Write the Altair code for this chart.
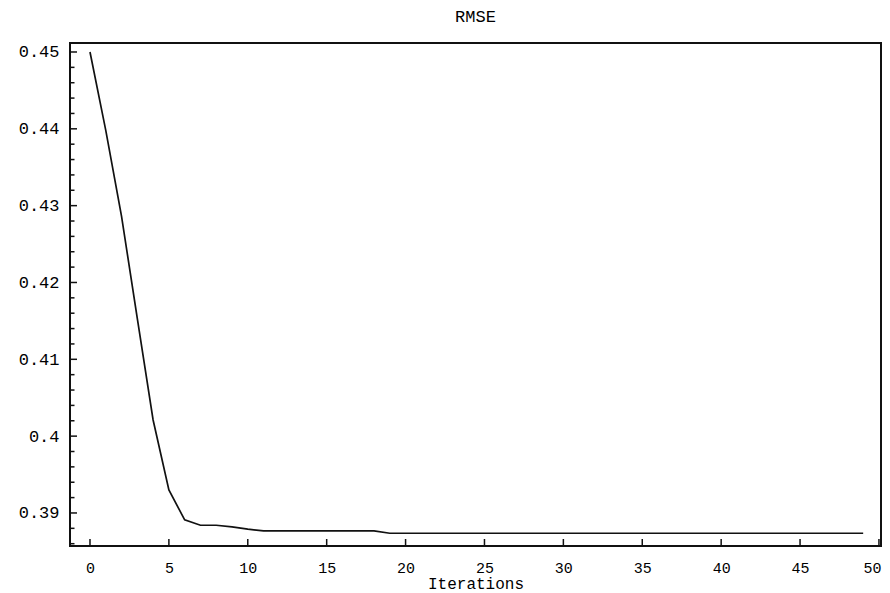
import altair as alt
import pandas as pd

# ---- data ----
iterations = list(range(50))
rmse = [
    0.4500, 0.4398, 0.4286, 0.4153, 0.4021, 0.3930, 0.3891, 0.3884, 0.3884, 0.3882,
    0.3879, 0.38766, 0.38766, 0.38766, 0.38766, 0.38766, 0.38766, 0.38766, 0.38766, 0.38736,
    0.38736, 0.38736, 0.38736, 0.38736, 0.38736, 0.38736, 0.38736, 0.38736, 0.38736, 0.38736,
    0.38736, 0.38736, 0.38736, 0.38736, 0.38736, 0.38736, 0.38736, 0.38736, 0.38736, 0.38736,
    0.38736, 0.38736, 0.38736, 0.38736, 0.38736, 0.38736, 0.38736, 0.38736, 0.38736, 0.38736,
]
x_ticks = [0, 5, 10, 15, 20, 25, 30, 35, 40, 45, 50]
y_major = [0.39, 0.40, 0.41, 0.42, 0.43, 0.44, 0.45]
y_minor = [0.386, 0.388, 0.392, 0.394, 0.396, 0.398, 0.402, 0.404, 0.406, 0.408,
           0.412, 0.414, 0.416, 0.418, 0.422, 0.424, 0.426, 0.428, 0.432, 0.434,
           0.436, 0.438, 0.442, 0.444, 0.446, 0.448]

FONT = "Liberation Mono"
W, H = 811, 503
xdom = [-1.267, 50.13]
ydom = [0.3857, 0.45117]

df = pd.DataFrame({"it": iterations, "rmse": rmse})
xs = alt.Scale(domain=xdom, nice=False, zero=False)
ys = alt.Scale(domain=ydom, nice=False, zero=False)

xaxis = alt.Axis(values=x_ticks, format="d", ticks=False, domain=False, grid=False,
                 labelFont=FONT, labelFontSize=15, labelColor="black", labelPadding=14,
                 labelOverlap=False, labelFlush=5, labelFlushOffset=2,
                 titleFont=FONT, titleFontSize=16, titleFontWeight="normal",
                 titleColor="black", titlePadding=0)
yaxis = alt.Axis(values=y_major, format=".2~f", ticks=False, domain=False, grid=False,
                 labelFont=FONT, labelFontSize=17, labelColor="black", labelPadding=11)

line = alt.Chart(df).mark_line(color="#111111", strokeWidth=1.7, clip=True).encode(
    x=alt.X("it:Q", scale=xs, title="Iterations", axis=xaxis),
    y=alt.Y("rmse:Q", scale=ys, title=None, axis=yaxis),
)

xt = alt.Chart(pd.DataFrame({"v": x_ticks})).mark_rule(color="#111111", strokeWidth=1.5).encode(
    x=alt.X("v:Q", scale=xs, title="Iterations", axis=xaxis),
    y=alt.value(H), y2=alt.value(H - 7),
)
ytM = alt.Chart(pd.DataFrame({"v": y_major})).mark_rule(color="#111111", strokeWidth=1.5).encode(
    y=alt.Y("v:Q", scale=ys, title=None, axis=yaxis),
    x=alt.value(0), x2=alt.value(7),
)
ytm = alt.Chart(pd.DataFrame({"v": y_minor})).mark_rule(color="#111111", strokeWidth=1.5).encode(
    y=alt.Y("v:Q", scale=ys, title=None, axis=yaxis),
    x=alt.value(0), x2=alt.value(4.5),
)

chart = alt.layer(line, xt, ytM, ytm).properties(
    width=W, height=H,
    title=alt.TitleParams("RMSE", font=FONT, fontSize=17, fontWeight="normal",
                          color="black", anchor="middle", offset=17),
    autosize=alt.AutoSizeParams(type="none"),
    padding={"left": 62, "top": 35, "right": 1, "bottom": 47},
).configure(background="white").configure_view(stroke="#111111", strokeWidth=2)

chart.save("out.html", embed_options={"renderer": "svg", "actions": False})
